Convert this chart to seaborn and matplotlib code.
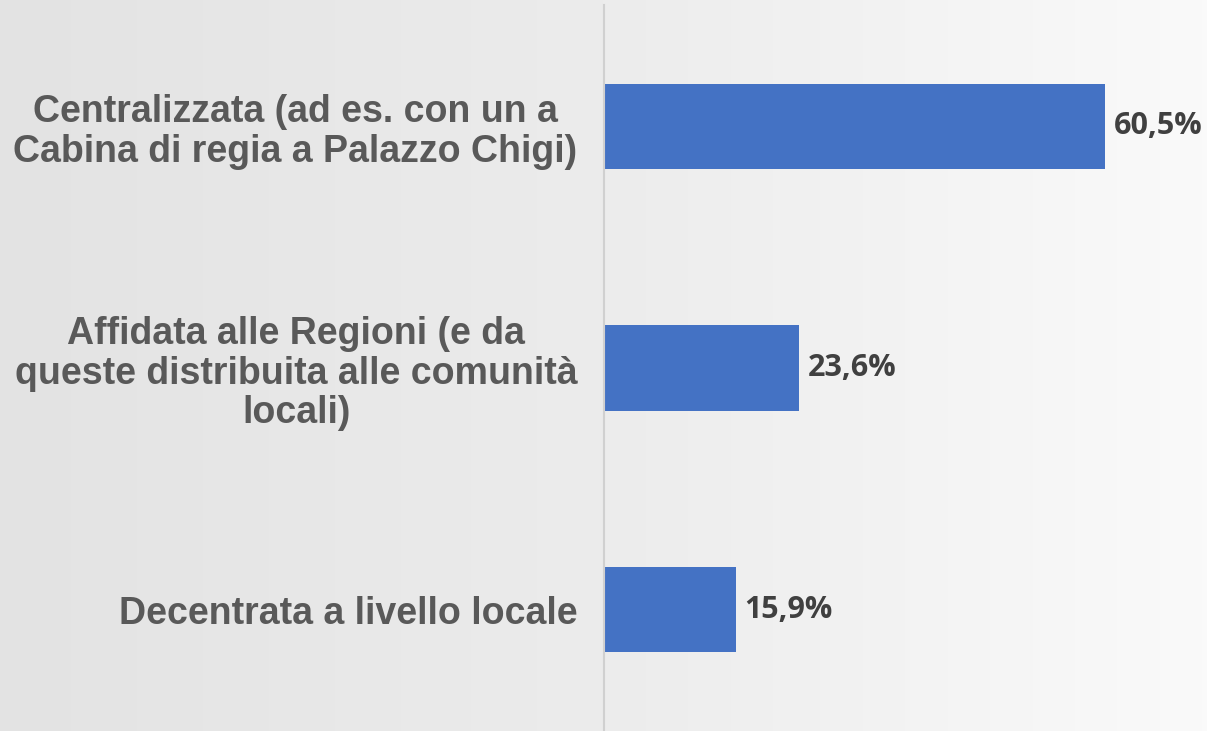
import matplotlib
matplotlib.use("Agg")
import matplotlib.pyplot as plt
import numpy as np
import seaborn as sns
from matplotlib.colors import LinearSegmentedColormap

categories = [
    "Centralizzata (ad es. con un a\nCabina di regia a Palazzo Chigi)",
    "Affidata alle Regioni (e da\nqueste distribuita alle comunità\nlocali)",
    "Decentrata a livello locale",
]
values = [60.5, 23.6, 15.9]
value_labels = ["60,5%", "23,6%", "15,9%"]

sns.set_style("white")
plt.rcParams["font.family"] = ["Liberation Sans", "DejaVu Sans"]

fig = plt.figure(figsize=(12.07, 7.31), dpi=100)

# soft grey background gradient
bg = fig.add_axes([0, 0, 1, 1], zorder=0)
grad = np.linspace(0, 1, 256).reshape(1, -1)
cmap = LinearSegmentedColormap.from_list("bg", ["#e3e3e3", "#ececec", "#fafafa"])
bg.imshow(grad, aspect="auto", cmap=cmap, extent=[0, 1, 0, 1])
bg.set_axis_off()

ax = fig.add_axes([604 / 1207, 0, 1 - 604 / 1207, 726 / 731], zorder=1)
ax.patch.set_alpha(0)

sns.barplot(x=values, y=categories, orient="h", color="#4472C4",
            width=0.354, saturation=1, linewidth=0, ax=ax)

ax.set_xlim(0, 72.8)
ax.set_ylim(2.503, -0.503)
ax.set_xlabel("")
ax.set_ylabel("")
ax.set_xticks([])

for s in ["top", "right", "bottom"]:
    ax.spines[s].set_visible(False)
ax.spines["left"].set_color("#d0d0d0")
ax.spines["left"].set_linewidth(1.5)

ax.tick_params(axis="y", length=0, pad=19)
for lab in ax.get_yticklabels():
    lab.set_fontsize(27)
    lab.set_fontweight("bold")
    lab.set_color("#595959")
    lab.set_multialignment("center")
    lab.set_linespacing(1.12)

ax.bar_label(ax.containers[0], labels=value_labels, padding=6,
             fontsize=22, fontweight="bold", color="#404040",
             family=["Open Sans", "DejaVu Sans"])

fig.savefig("out.png", dpi=100, facecolor="white")
